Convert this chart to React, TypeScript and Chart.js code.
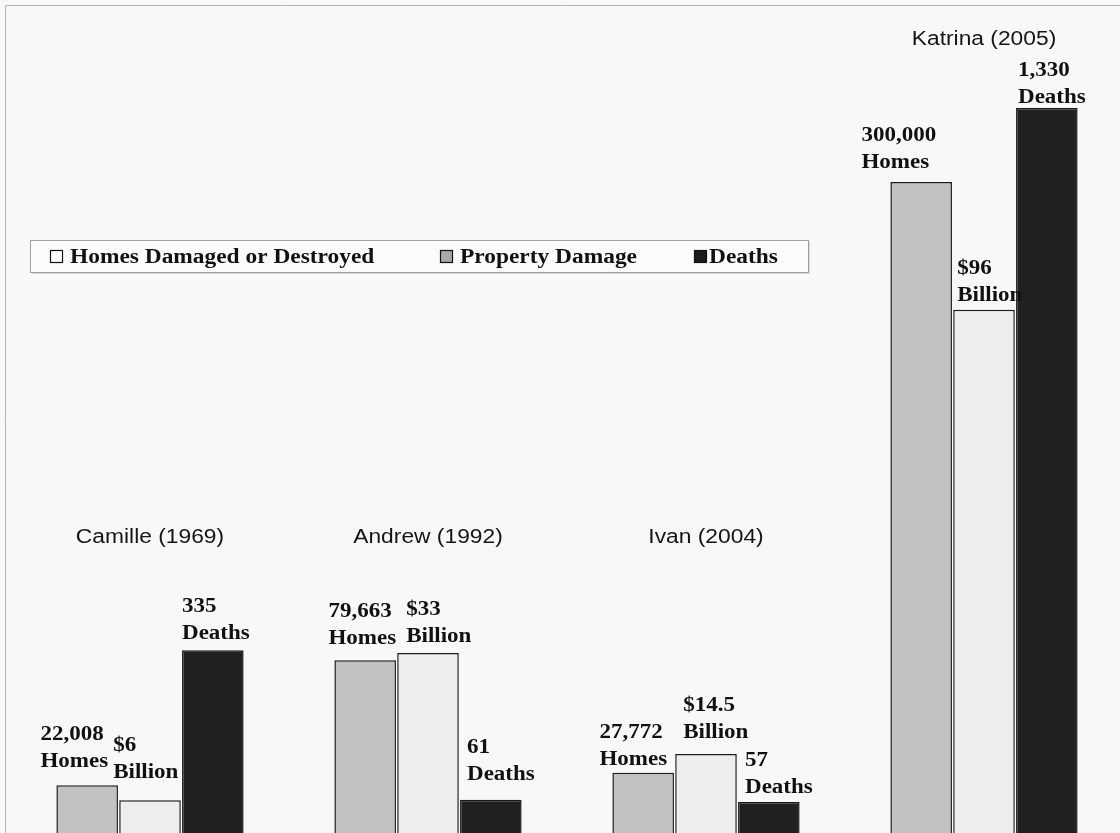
import React, { useEffect, useRef } from "react";
import { Chart, registerables } from "chart.js";

Chart.register(...registerables);

// ---- data ----
const hurricanes = ["Camille (1969)", "Andrew (1992)", "Ivan (2004)", "Katrina (2005)"];
const homesDamaged = [22008, 79663, 27772, 300000];
const propertyDamageBillions = [6, 33, 14.5, 96];
const deaths = [335, 61, 57, 1330];
const seriesNames = ["Homes Damaged or Destroyed", "Property Damage", "Deaths"];
const unitWords = ["Homes", "Billion", "Deaths"];

// ---- layout / style (not data) ----
const W = 1120;
const H = 833;
const CANVAS_W = 1126;
const HOMES_AXIS_MAX = 383900;
const DAMAGE_AXIS_MAX = 152.8;
const DEATHS_AXIS_MAX = 1528;
// per series, per hurricane: [dx from bar left edge, gap above bar top]
const labelNudges = [
  [[-16, 18], [-6, 16], [-13, 8], [-29, 14]],
  [[-6, 22], [9, 11], [8, 16], [4, 9]],
  [[0, 11], [7, 20], [7, 9], [2, 5]],
];
const barFills = ["#c2c2c2", "#ededed", "#202020"];
const legendFills = ["#ffffff", "#a9a9a9", "#1b1b1b"];
const SERIF = "'Liberation Serif', 'Times New Roman', serif";
const SANS = "'Liberation Sans', Arial, sans-serif";
const NAME_ROW_BASELINE = 543;
const LINE_H = 27;

function stretchText(
  ctx: CanvasRenderingContext2D,
  text: string,
  x: number,
  y: number,
  sx: number,
  align: CanvasTextAlign
) {
  ctx.save();
  ctx.translate(x, y);
  ctx.scale(sx, 1);
  ctx.textAlign = align;
  ctx.textBaseline = "alphabetic";
  ctx.fillText(text, 0, 0);
  ctx.restore();
}

function firstLine(series: number, v: number): string {
  if (series === 1) return "$" + v.toLocaleString("en-US");
  return v.toLocaleString("en-US");
}

const paperPlugin = {
  id: "paper",
  beforeDraw(chart: any) {
    const ctx: CanvasRenderingContext2D = chart.ctx;
    ctx.save();
    ctx.fillStyle = "#f8f8f8";
    ctx.fillRect(0, 0, chart.width, chart.height);
    ctx.strokeStyle = "#b4b4b4";
    ctx.lineWidth = 1;
    ctx.beginPath();
    ctx.moveTo(5.5, chart.height);
    ctx.lineTo(5.5, 5.5);
    ctx.lineTo(chart.width, 5.5);
    ctx.stroke();
    ctx.restore();
  },
};

const labelsPlugin = {
  id: "barLabels",
  afterDatasetsDraw(chart: any) {
    const ctx: CanvasRenderingContext2D = chart.ctx;
    const values = [homesDamaged, propertyDamageBillions, deaths];
    ctx.save();
    ctx.fillStyle = "#111";
    ctx.font = `bold 20px ${SERIF}`;
    const groupTop: number[] = hurricanes.map(() => Infinity);
    for (let s = 0; s < 3; s++) {
      const meta = chart.getDatasetMeta(s);
      meta.data.forEach((bar: any, j: number) => {
        const left = bar.x - bar.width / 2;
        const [dx, gap] = labelNudges[s][j];
        const base2 = bar.y - gap;
        const base1 = base2 - LINE_H;
        stretchText(ctx, firstLine(s, values[s][j]), left + dx, base1, 1.15, "left");
        stretchText(ctx, unitWords[s], left + dx, base2, 1.15, "left");
        groupTop[j] = Math.min(groupTop[j], base1 - 14);
      });
    }
    // hurricane names
    ctx.font = `20px ${SANS}`;
    ctx.fillStyle = "#151515";
    const xScale = chart.scales.x;
    hurricanes.forEach((name, j) => {
      const cx = xScale.getPixelForValue(j);
      const y = Math.min(NAME_ROW_BASELINE, groupTop[j] - 17);
      stretchText(ctx, name, cx, y, 1.14, "center");
    });
    // legend
    const bx = 30, by = 240, bw = 778, bh = 32;
    ctx.fillStyle = "#d6d6d6";
    ctx.fillRect(bx + 2, by + 2, bw, bh);
    ctx.fillStyle = "#fbfbfb";
    ctx.fillRect(bx, by, bw, bh);
    ctx.strokeStyle = "#a0a0a0";
    ctx.lineWidth = 1;
    ctx.strokeRect(bx + 0.5, by + 0.5, bw, bh);
    const iconX = [50, 440, 694];
    const textX = [70, 460, 709];
    ctx.font = `bold 20px ${SERIF}`;
    seriesNames.forEach((nm, i) => {
      ctx.fillStyle = legendFills[i];
      ctx.fillRect(iconX[i], by + 10, 13, 13);
      ctx.strokeStyle = "#111";
      ctx.lineWidth = 1.2;
      ctx.strokeRect(iconX[i] + 0.5, by + 10.5, 12, 12);
      ctx.fillStyle = "#111";
      stretchText(ctx, nm, textX[i], by + 23, 1.17, "left");
    });
    ctx.restore();
  },
};

export default function App() {
  const ref = useRef<HTMLCanvasElement | null>(null);
  useEffect(() => {
    if (!ref.current) return;
    const chart = new Chart(ref.current, {
      type: "bar",
      data: {
        labels: hurricanes,
        datasets: [
          {
            label: seriesNames[0],
            data: homesDamaged,
            yAxisID: "yHomes",
            backgroundColor: barFills[0],
            borderColor: "#1a1a1a",
            borderWidth: 1.5,
          },
          {
            label: seriesNames[1],
            data: propertyDamageBillions,
            yAxisID: "yDamage",
            backgroundColor: barFills[1],
            borderColor: "#1a1a1a",
            borderWidth: 1.5,
          },
          {
            label: seriesNames[2],
            data: deaths,
            yAxisID: "yDeaths",
            backgroundColor: barFills[2],
            borderColor: "#1a1a1a",
            borderWidth: 1.5,
          },
        ],
      },
      options: {
        responsive: false,
        animation: false,
        devicePixelRatio: 1,
        layout: { padding: { left: 11, right: 3, top: 0, bottom: 0 } },
        datasets: { bar: { categoryPercentage: 0.678, barPercentage: 0.98 } },
        plugins: {
          legend: { display: false },
          tooltip: { enabled: false },
          title: { display: false },
        },
        scales: {
          x: { display: false },
          yHomes: { display: false, position: "left", min: 0, max: HOMES_AXIS_MAX },
          yDamage: { display: false, position: "left", min: 0, max: DAMAGE_AXIS_MAX },
          yDeaths: { display: false, position: "right", min: 0, max: DEATHS_AXIS_MAX },
        },
      },
      plugins: [paperPlugin, labelsPlugin],
    } as any);
    return () => chart.destroy();
  }, []);
  return (
    <div style={{ position: "absolute", left: 0, top: 0, width: W, height: H, overflow: "hidden" }}>
      <canvas ref={ref} width={CANVAS_W} height={H} style={{ display: "block" }} />
    </div>
  );
}
